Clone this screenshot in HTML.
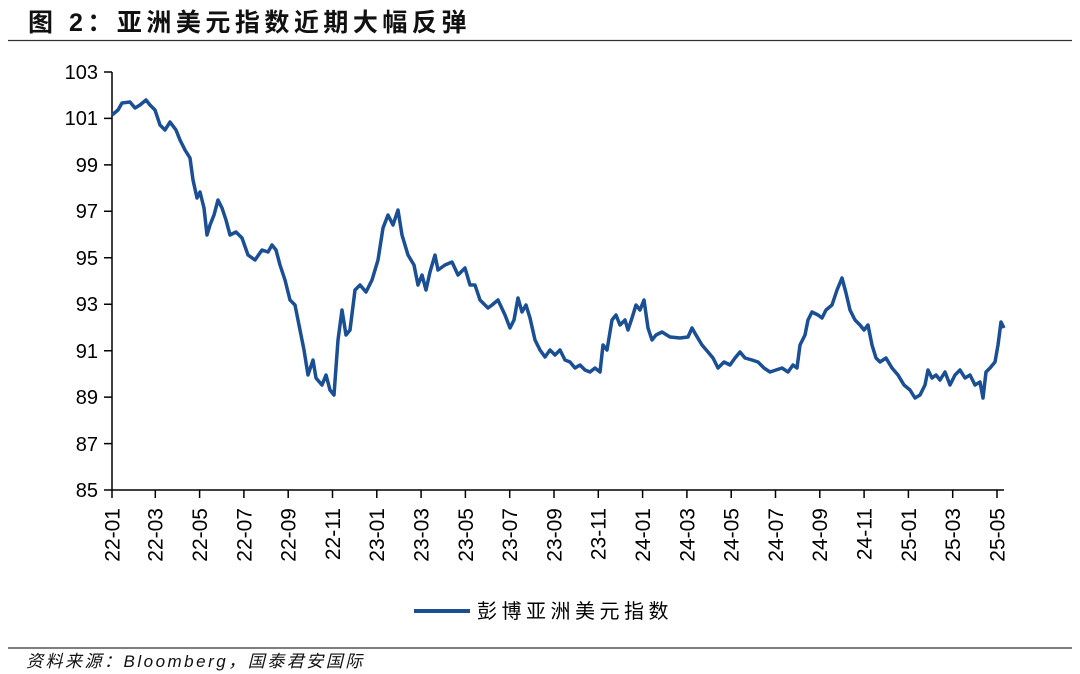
<!DOCTYPE html>
<html><head><meta charset="utf-8"><style>
body{margin:0;background:#fff;width:1080px;height:674px;overflow:hidden}
svg{display:block}
</style></head><body>
<svg width="1080" height="674" xmlns="http://www.w3.org/2000/svg" font-family="Liberation Sans, Noto Sans CJK SC, sans-serif">
<text x="28" y="31" font-size="25" font-weight="bold" fill="#111" letter-spacing="4.5">图 2：亚洲美元指数近期大幅反弹</text>
<line x1="8" y1="40.5" x2="1072" y2="40.5" stroke="#333" stroke-width="1.2"/>
<g stroke="#000" stroke-width="1.5" fill="none">
<line x1="112" y1="72" x2="112" y2="498"/>
<line x1="104" y1="490" x2="1004" y2="490"/>
<path d="M104 72H112M104 118.4H112M104 164.9H112M104 211.3H112M104 257.8H112M104 304.2H112M104 350.7H112M104 397.1H112M104 443.6H112"/>
<path d="M155.3 490V498M199.6 490V498M243.9 490V498M288.2 490V498M332.5 490V498M376.8 490V498M421.1 490V498M465.4 490V498M509.7 490V498M554 490V498M598.3 490V498M642.6 490V498M686.9 490V498M731.2 490V498M775.5 490V498M819.8 490V498M864.1 490V498M908.4 490V498M952.7 490V498M997 490V498"/>
</g>
<g font-size="20" fill="#000" text-anchor="end">
<text x="98" y="79">103</text><text x="98" y="125">101</text><text x="98" y="172">99</text><text x="98" y="218">97</text><text x="98" y="265">95</text><text x="98" y="311">93</text><text x="98" y="358">91</text><text x="98" y="404">89</text><text x="98" y="451">87</text><text x="98" y="497">85</text>
</g>
<g font-size="21" fill="#000" text-anchor="end">
<text transform="translate(119.5,508) rotate(-90)">22-01</text>
<text transform="translate(162.5,508) rotate(-90)">22-03</text>
<text transform="translate(207,508) rotate(-90)">22-05</text>
<text transform="translate(251.3,508) rotate(-90)">22-07</text>
<text transform="translate(295.6,508) rotate(-90)">22-09</text>
<text transform="translate(339.9,508) rotate(-90)">22-11</text>
<text transform="translate(384.2,508) rotate(-90)">23-01</text>
<text transform="translate(428.5,508) rotate(-90)">23-03</text>
<text transform="translate(472.8,508) rotate(-90)">23-05</text>
<text transform="translate(517.1,508) rotate(-90)">23-07</text>
<text transform="translate(561.4,508) rotate(-90)">23-09</text>
<text transform="translate(605.7,508) rotate(-90)">23-11</text>
<text transform="translate(650,508) rotate(-90)">24-01</text>
<text transform="translate(694.3,508) rotate(-90)">24-03</text>
<text transform="translate(738.6,508) rotate(-90)">24-05</text>
<text transform="translate(782.9,508) rotate(-90)">24-07</text>
<text transform="translate(827.2,508) rotate(-90)">24-09</text>
<text transform="translate(871.5,508) rotate(-90)">24-11</text>
<text transform="translate(915.8,508) rotate(-90)">25-01</text>
<text transform="translate(960.1,508) rotate(-90)">25-03</text>
<text transform="translate(1004.4,508) rotate(-90)">25-05</text>
</g>
<polyline fill="none" stroke="#1A4F95" stroke-width="3.5" stroke-linejoin="round" points="112,115 118,110 122,103 130,102 135,108 140,105 146,100 150,105 155,110 160,125 165,130 170,122 176,130 180,140 185,150 190,158 193,180 197,198 200,192 204,208 207,235 210,225 214,215 218,200 222,208 226,220 230,235 236,232 242,238 248,255 255,260 262,250 268,252 272,245 276,250 280,265 285,280 290,300 295,305 300,330 304,350 308,375 313,360 316,378 322,385 326,375 330,390 334,395 338,340 342,310 346,335 350,330 355,290 360,285 366,292 372,280 378,260 383,228 388,215 393,225 398,210 402,235 408,255 414,265 418,285 422,275 426,290 430,272 435,255 438,270 445,265 452,262 458,275 465,268 470,285 475,285 480,300 488,308 492,305 498,300 505,315 510,328 514,320 518,298 522,312 526,305 530,318 535,340 540,350 545,357 550,350 555,355 560,350 565,360 570,362 575,368 580,365 585,370 590,372 595,368 600,372 603,345 607,350 612,320 616,315 620,325 625,320 628,330 632,318 636,305 640,310 644,300 648,328 652,340 656,335 662,332 670,337 680,338 688,337 692,328 696,335 702,345 708,352 713,358 718,368 724,362 730,365 735,358 740,352 745,358 752,360 758,362 764,368 770,372 776,370 782,368 788,372 793,365 797,368 800,345 805,335 808,320 812,312 818,315 822,318 826,310 832,305 837,290 842,278 846,293 850,310 855,320 860,325 864,330 868,325 872,345 876,358 880,362 886,358 892,368 898,375 904,385 910,390 915,398 920,395 925,385 928,370 932,378 936,375 940,380 945,372 950,385 955,375 960,370 965,378 970,375 975,385 980,382 983,398 986,372 990,368 995,362 998,345 1001,322 1004,328"/>
<line x1="414" y1="611" x2="470" y2="611" stroke="#1A4F95" stroke-width="4"/>
<text x="477" y="618" font-size="20" fill="#000" letter-spacing="4.5">彭博亚洲美元指数</text>
<line x1="8" y1="648" x2="1072" y2="648" stroke="#333" stroke-width="1.2"/>
<text x="26" y="667" font-size="17" font-style="italic" fill="#111" letter-spacing="2.5">资料来源：Bloomberg，国泰君安国际</text>
</svg>
</body></html>
